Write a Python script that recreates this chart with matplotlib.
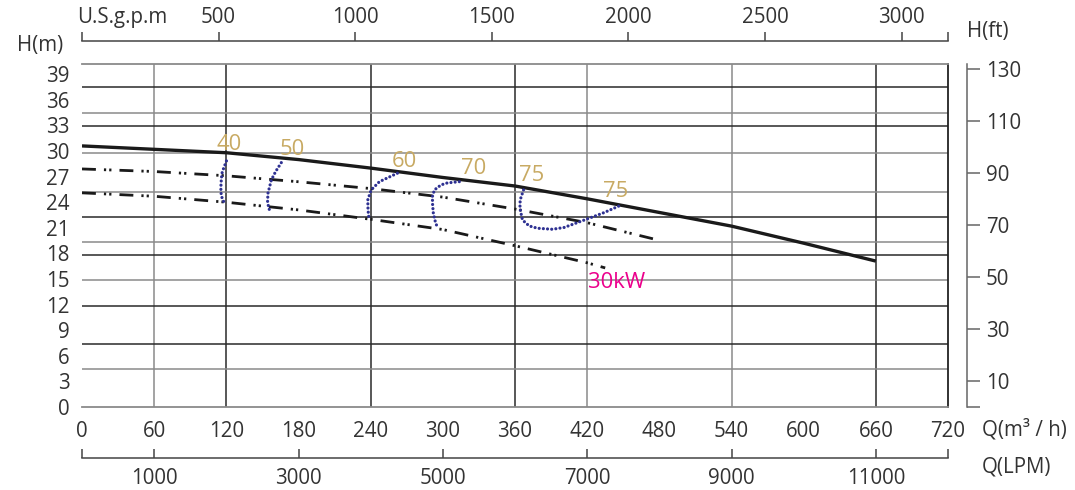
import matplotlib
matplotlib.use('Agg')
import matplotlib.pyplot as plt
import numpy as np

plt.rcParams['font.family'] = ['Open Sans', 'DejaVu Sans']
plt.rcParams['lines.scale_dashes'] = False

# H-Q curves (Q in m3/h, H in m)
q_main = [0, 60, 120, 180, 240, 300, 360, 420, 480, 540, 600, 660]
h_main = [30.6, 30.2, 29.8, 29.0, 28.0, 26.9, 25.9, 24.4, 22.8, 21.2, 19.2, 17.1]

q_mid = [0, 60, 120, 180, 240, 300, 360, 420, 478]
h_mid = [27.9, 27.6, 27.1, 26.4, 25.6, 24.6, 23.2, 21.6, 19.6]

q_low = [0, 60, 120, 180, 240, 300, 360, 420, 435]
h_low = [25.1, 24.7, 24.0, 23.1, 22.0, 20.8, 18.9, 16.9, 16.3]

# iso-efficiency lines
eff_q = {
    '40': [120.1, 116.6, 115.9, 115.4, 115.8, 117.8, 119.5],
    '50': [165.7, 161.0, 157.4, 154.6, 154.3, 155.4, 157.4],
    '60': [262.2, 247.3, 240.4, 237.6, 237.8, 238.4, 240.4],
    '70': [313.7, 303.7, 298.5, 293.0, 291.3, 291.5, 292.1, 293.8, 295.7],
    '75': [367.1, 364.3, 364.1, 366.2, 371.8, 378.7, 391.1, 400.8, 410.5, 421.6, 434.0, 446.5],
}
eff_h = {
    '40': [28.84, 27.55, 26.81, 25.67, 24.74, 24.07, 23.68],
    '50': [28.64, 27.60, 26.60, 25.05, 24.10, 23.18, 23.10],
    '60': [27.40, 26.41, 25.44, 24.27, 23.09, 22.31, 22.00],
    '70': [26.41, 26.26, 26.03, 25.44, 24.65, 23.68, 22.71, 21.69, 20.95],
    '75': [25.44, 24.27, 23.29, 21.92, 21.22, 20.95, 20.83, 21.04, 21.54, 22.12, 22.78, 23.56],
}
eff_labels = ['40', '50', '60', '70', '75', '75']
eff_label_q = [122, 175, 268, 326, 374, 444]
eff_label_h = [30.8, 30.2, 28.8, 27.9, 27.1, 25.3]

# grid
vgrid_gray = [60, 420, 540]
vgrid_black = [120, 240, 360, 660]
hgrid_gray = [34.47, 29.78, 25.2, 19.34, 14.89, 4.45]
hgrid_black = [37.51, 32.94, 22.27, 17.82, 11.84, 7.39]

x_ticks = list(range(0, 721, 60))
y_ticks = list(range(0, 40, 3))
gpm_ticks = [500, 1000, 1500, 2000, 2500, 3000]
lpm_ticks = [1000, 3000, 5000, 7000, 9000, 11000]
ft_ticks = [10, 30, 50, 70, 90, 110, 130]

fs = 14.8
fs_lab = 15.8
tcol = '#333333'

fig = plt.figure(figsize=(10.75, 4.9), dpi=100)
ax = fig.add_axes([82 / 1075, 83 / 490, 866 / 1075, 343 / 490])
ax.set_xlim(0, 720)
ax.set_ylim(0, 40.2)

for v in vgrid_gray:
    ax.axvline(v, color='#8a8a8a', lw=1.1, zorder=1)
for v in vgrid_black:
    ax.axvline(v, color='#2a2a2a', lw=1.1, zorder=1)
for h in hgrid_gray:
    ax.axhline(h, color='#8a8a8a', lw=1.1, zorder=1)
for h in hgrid_black:
    ax.axhline(h, color='#2a2a2a', lw=1.1, zorder=1)

ax.spines['left'].set_visible(False)
ax.spines['top'].set_color('#8a8a8a')
ax.spines['bottom'].set_color('#8a8a8a')
ax.spines['right'].set_color('#222222')
for s in ['top', 'bottom', 'right']:
    ax.spines[s].set_linewidth(1.3)

ax.plot(q_main, h_main, color='#1a1a1a', lw=2.4, solid_capstyle='butt', zorder=4)
dd = (0, (10, 5.8, 1.6, 2.2, 1.6, 5.8))
ax.plot(q_mid, h_mid, color='#1a1a1a', lw=2.0, linestyle=dd, zorder=4)
ax.plot(q_low, h_low, color='#1a1a1a', lw=2.0, linestyle=dd, zorder=4)

for k in eff_q:
    ax.plot(eff_q[k], eff_h[k], color='#2e3192', lw=2.3, linestyle=(0, (0.01, 3.0)),
            dash_capstyle='round', zorder=5)
for lab, q, h in zip(eff_labels, eff_label_q, eff_label_h):
    ax.text(q, h, lab, color='#c8aa63', fontsize=fs_lab, ha='center', va='center', zorder=6)
ax.text(420.5, 14.65, '30kW', color='#ec008c', fontsize=fs_lab, ha='left', va='center', zorder=6)

# top US gpm axis
ax_top = ax.twiny()
gmax = 720 * 4.4029
ax_top.set_xlim(0, gmax)
for s in ['left', 'right', 'bottom']:
    ax_top.spines[s].set_visible(False)
ax_top.spines['top'].set_position(('outward', 16.6))
ax_top.spines['top'].set_color('#444444')
ax_top.spines['top'].set_linewidth(1.1)
ax_top.set_xticks([0] + gpm_ticks + [gmax])
ax_top.set_xticklabels([''] + [str(t) for t in gpm_ticks] + [''])
ax_top.tick_params(axis='x', direction='out', length=6.5, width=1.1, color='#444444',
                   labelsize=fs, labelcolor=tcol, pad=3)

# bottom LPM axis
ax_lpm = ax.twiny()
lmax = 720 * 1000 / 60
ax_lpm.set_xlim(0, lmax)
ax_lpm.xaxis.set_ticks_position('bottom')
ax_lpm.xaxis.set_label_position('bottom')
for s in ['left', 'right', 'top']:
    ax_lpm.spines[s].set_visible(False)
ax_lpm.spines['bottom'].set_position(('outward', 36.7))
ax_lpm.spines['bottom'].set_color('#444444')
ax_lpm.spines['bottom'].set_linewidth(1.1)
ax_lpm.set_xticks([0] + lpm_ticks + [lmax])
ax_lpm.set_xticklabels([''] + [str(t) for t in lpm_ticks] + [''])
ax_lpm.tick_params(axis='x', direction='in', length=6.5, width=1.1, color='#444444',
                   labelsize=fs, labelcolor=tcol, pad=7)

# right ft axis
ax_ft = ax.twinx()
ax_ft.set_ylim(0, 40.2 / 0.3048)
for s in ['left', 'top', 'bottom']:
    ax_ft.spines[s].set_visible(False)
ax_ft.spines['right'].set_position(('outward', 13.7))
ax_ft.spines['right'].set_color('#666666')
ax_ft.spines['right'].set_linewidth(1.1)
ax_ft.set_yticks([0] + ft_ticks)
ax_ft.set_yticklabels([''] + [str(t) for t in ft_ticks])
ax_ft.tick_params(axis='y', direction='out', length=9.4, width=1.1, color='#666666',
                  labelsize=fs, labelcolor=tcol, pad=4)

# main axis tick labels (set after twins so nothing resets them)
ax.set_xticks(x_ticks)
ax.set_yticks(y_ticks)
ax.set_ylim(0, 40.2)
ax.tick_params(length=0, labelsize=fs, labelcolor=tcol)
ax.tick_params(axis='x', pad=10, labelbottom=True, labeltop=False)
ax.tick_params(axis='y', pad=9, labelleft=True, labelright=False)

fig.text(40 / 1075, 1 - 46 / 490, 'H(m)', fontsize=fs, color=tcol, ha='center', va='center')
fig.text(122 / 1075, 1 - 17 / 490, 'U.S.g.p.m', fontsize=fs, color=tcol, ha='center', va='center')
fig.text(967 / 1075, 1 - 31 / 490, 'H(ft)', fontsize=fs, color=tcol, ha='left', va='center')
fig.text(982 / 1075, 1 - 430 / 490, 'Q(m³ / h)', fontsize=fs, color=tcol, ha='left', va='center')
fig.text(982 / 1075, 1 - 467 / 490, 'Q(LPM)', fontsize=fs, color=tcol, ha='left', va='center')

fig.savefig('out.png', dpi=100)
